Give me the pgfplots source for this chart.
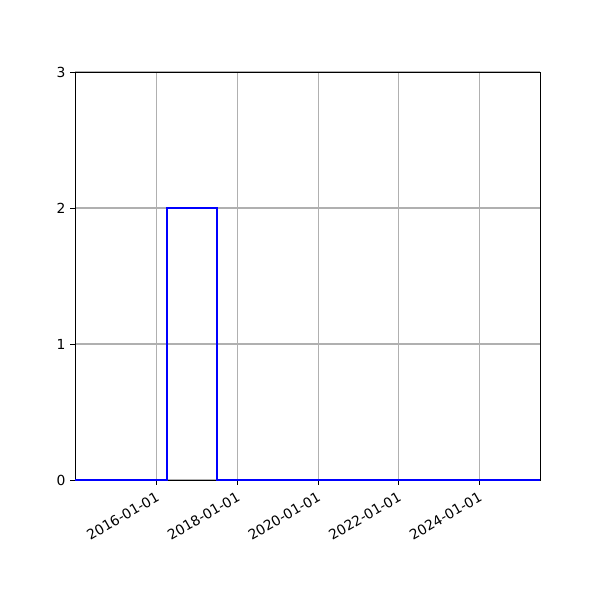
\documentclass[border=0pt]{standalone}
\usepackage{fontspec}
\setmainfont{DejaVu Sans}
\usepackage{pgfplots}
\pgfplotsset{compat=1.18}

\begin{document}
\begin{tikzpicture}
\path[use as bounding box] (-56.25pt,-90pt) rectangle (393.75pt,360pt);
\begin{axis}[
    at={(0pt,0pt)}, anchor=south west,
    scale only axis,
    width=348.75pt, height=306pt,
    xmin=2013.97, xmax=2025.5,
    ymin=0, ymax=3,
    xtick={2016,2018,2020,2022,2024},
    xticklabels={2016-01-01,2018-01-01,2020-01-01,2022-01-01,2024-01-01},
    ytick={0,1,2,3},
    x tick label style={rotate=30, anchor=north east, font=\fontsize{10.4}{12}\selectfont},
    y tick label style={font=\fontsize{10.4}{12}\selectfont},
    /pgf/number format/assume math mode=true,
    tick align=outside,
    tick pos=left,
    major tick length=3.65pt,
    tick style={black, line width=0.6pt},
    grid=major,
    grid style={color=black!31, line width=0.8pt},
    axis line style={line width=0.6pt},
]
\addplot[blue, line width=1.5pt, mark=none] coordinates {
    (2013.97,0) (2016.26,0) (2016.26,2) (2017.49,2) (2017.49,0) (2025.5,0)
};
\end{axis}
\end{tikzpicture}
\end{document}
